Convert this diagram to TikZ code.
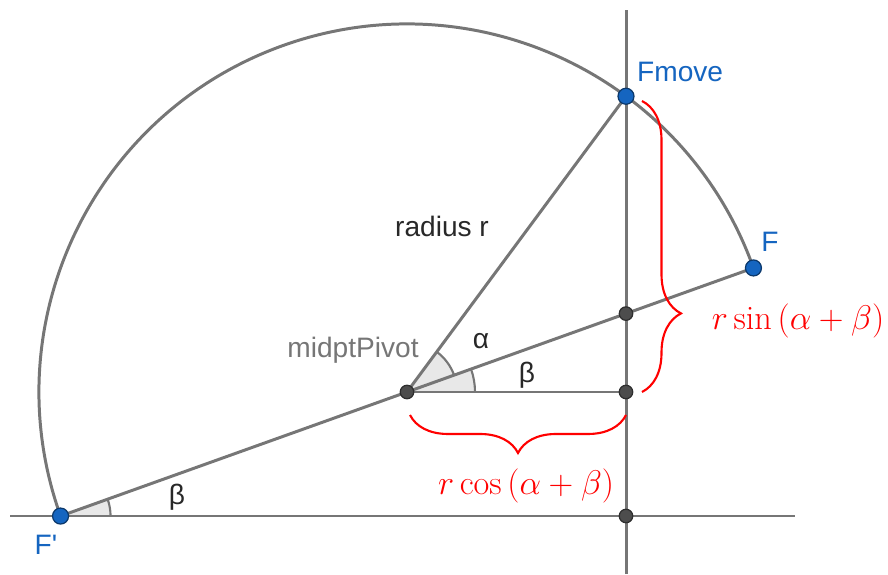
\documentclass[tikz,border=0pt]{standalone}
\usepackage{amsmath}
\usepackage{fix-cm}
\usepackage{fontspec}
\newfontfamily\ggfont{Liberation Sans}
\usepackage{xcolor}
\usepackage{tikz}
\usetikzlibrary{calc,decorations.pathreplacing}

\definecolor{ggblue}{RGB}{21,101,192}
\definecolor{ggline}{RGB}{118,118,118}
\definecolor{ggpt}{RGB}{77,77,77}
\definecolor{ggtext}{RGB}{40,40,40}

\begin{document}
\begin{tikzpicture}[x=0.02cm,y=0.02cm,
    geoline/.style={ggline, line width=1.7pt},
    freept/.style={circle, fill=ggblue, draw=ggblue!55!black, line width=0.7pt,
        inner sep=0pt, minimum size=0.32cm},
    fixpt/.style={circle, fill=ggpt, draw=ggpt!60!black, line width=0.7pt,
        inner sep=0pt, minimum size=0.27cm},
    ptlabel/.style={font=\ggfont\fontsize{16}{19}\selectfont, text=ggblue},
    anglabel/.style={font=\ggfont\fontsize{16}{19}\selectfont, text=ggtext},
    redbrace/.style={red, line width=1.2pt, decorate},
    redmath/.style={text=red, font=\fontsize{19.5}{22}\selectfont}]
    \useasboundingbox (0,0) rectangle (888,574);

    % points of the construction
    \coordinate (P) at (407,182);
    \coordinate (F) at ($(P)+(19.7:368)$);
    \coordinate (Fp) at ($(P)+(199.7:368)$);
    \coordinate (Fm) at ($(P)+(53.48:368)$);
    \coordinate (S) at (626,260.4);
    \coordinate (C) at (626,182);
    \coordinate (O) at (626,58);
    \coordinate (vb) at (626,0);
    \coordinate (vt) at (626,564);
    \coordinate (hl) at (10,58);
    \coordinate (hr) at (795,58);

    % angle marks
    \fill[gray!18] (P) -- ++(19.7:50) arc[start angle=19.7, end angle=53.48, radius=50] -- cycle;
    \draw[ggline, line width=1.2pt] ($(P)+(19.7:50)$) arc[start angle=19.7, end angle=53.48, radius=50];
    \fill[gray!18] (P) -- ++(0:68) arc[start angle=0, end angle=19.7, radius=68] -- cycle;
    \draw[ggline, line width=1.2pt] ($(P)+(0:68)$) arc[start angle=0, end angle=19.7, radius=68];
    \fill[gray!18] (Fp) -- ++(0:50) arc[start angle=0, end angle=19.7, radius=50] -- cycle;
    \draw[ggline, line width=1.2pt] ($(Fp)+(0:50)$) arc[start angle=0, end angle=19.7, radius=50];

    % lines and circle arc
    \draw[geoline] (hl) -- (hr);
    \draw[geoline] (vb) -- (vt);
    \draw[geoline] (Fp) -- (F);
    \draw[geoline] (P) -- (Fm);
    \draw[geoline] (P) -- (C);
    \draw[geoline] (F) arc[start angle=19.7, end angle=199.7, radius=368];

    % braces
    \draw[redbrace, decoration={brace, amplitude=0.78cm, aspect=0.73}]
        (642,473) -- (642,182);
    \draw[redbrace, decoration={brace, amplitude=0.76cm}]
        (626,159) -- (410,159);

    % dots
    \node[fixpt] (dotS) at (S) {};
    \node[fixpt] (dotC) at (C) {};
    \node[fixpt] (dotO) at (O) {};
    \node[fixpt] (dotP) at (P) {};
    \node[freept] (dotF) at (F) {};
    \node[freept] (dotFp) at (Fp) {};
    \node[freept] (dotFm) at (Fm) {};

    % labels
    \node[ptlabel, anchor=west] (lblFm) at (631,502) {Fmove};
    \node[ptlabel] (lblF) at (770,332) {F};
    \node[ptlabel] (lblFp) at (46,29) {F'};
    \node[anglabel, text=ggline] (lblP) at (353,224) {midptPivot};
    \node[anglabel] (lblr) at (442,348) {radius r};
    \node[anglabel] (lblalpha) at (481,233) {α};
    \node[anglabel] (lblbeta) at (527,199) {β};
    \node[anglabel] (lblbeta2) at (177,77) {β};
    \node[redmath] (lblsin) at (798,253) {$r\sin\,(\alpha+\beta)$};
    \node[redmath] (lblcos) at (526,88) {$r\cos\,(\alpha+\beta)$};
\end{tikzpicture}
\end{document}
